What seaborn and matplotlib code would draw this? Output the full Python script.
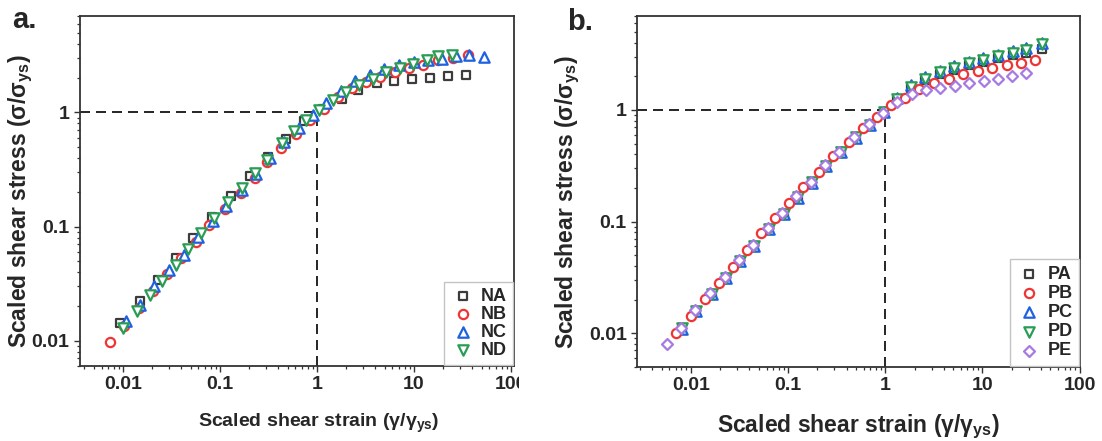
import matplotlib
matplotlib.use("Agg")
import matplotlib.pyplot as plt
import seaborn as sns
import pandas as pd
from matplotlib.ticker import FixedLocator, FixedFormatter, LogLocator, NullFormatter
from matplotlib.transforms import Bbox, TransformedBbox

# ---------------- data: panel a ----------------
NA_x = [0.0094, 0.0148, 0.0228, 0.0354, 0.0532, 0.083, 0.129, 0.202, 0.313, 0.48,
        0.734, 1.14, 1.79, 2.66, 4.12, 6.25, 9.6, 14.6, 22.5, 34.8]
NA_y = [0.0143, 0.0221, 0.0342, 0.0526, 0.0793, 0.121, 0.184, 0.279, 0.406, 0.589,
        0.834, 1.08, 1.31, 1.56, 1.79, 1.87, 1.95, 2.0, 2.07, 2.14]

NB_x = [0.0073, 0.0103, 0.0145, 0.0205, 0.0285, 0.040, 0.056, 0.077, 0.112, 0.163,
        0.227, 0.308, 0.423, 0.605, 0.85, 1.18, 1.65, 2.3, 3.2, 4.5, 6.3, 8.8,
        12.4, 17.8, 25.3, 36.0]
NB_y = [0.0097, 0.0135, 0.0195, 0.027, 0.0385, 0.053, 0.073, 0.104, 0.142, 0.197,
        0.266, 0.365, 0.487, 0.646, 0.85, 1.08, 1.36, 1.62, 1.85, 2.05, 2.25, 2.45,
        2.62, 2.85, 3.0, 3.2]

NC_x = [0.0107, 0.0149, 0.0211, 0.030, 0.0429, 0.0598, 0.0856, 0.116, 0.169, 0.236,
        0.324, 0.452, 0.652, 0.916, 1.25, 1.75, 2.45, 3.5, 4.9, 7.0, 10.0, 14.0,
        19.5, 27.1, 36.9, 52.7]
NC_y = [0.0148, 0.0207, 0.0299, 0.0413, 0.0567, 0.081, 0.111, 0.150, 0.210, 0.290,
        0.398, 0.546, 0.729, 0.955, 1.22, 1.55, 1.87, 2.14, 2.40, 2.60, 2.74, 2.85,
        2.95, 3.09, 3.2, 3.05]

ND_x = [0.0100, 0.0140, 0.0191, 0.0254, 0.0348, 0.0467, 0.0634, 0.087, 0.121, 0.167,
        0.232, 0.308, 0.44, 0.58, 0.77, 1.04, 1.45, 2.0, 2.73, 3.8, 5.2, 7.2, 9.8,
        13.5, 17.8, 24.4]
ND_y = [0.0129, 0.0181, 0.0253, 0.0331, 0.0463, 0.0636, 0.0877, 0.119, 0.164, 0.217,
        0.294, 0.385, 0.539, 0.682, 0.851, 1.05, 1.29, 1.50, 1.75, 1.96, 2.24, 2.45,
        2.67, 2.85, 3.09, 3.2]

# ---------------- data: panel b ----------------
PB_x = [0.0070, 0.0100, 0.0140, 0.0195, 0.0272, 0.0379, 0.053, 0.074, 0.103, 0.144,
        0.209, 0.292, 0.419, 0.585, 0.83, 1.15, 1.6, 2.2, 3.14, 4.49, 6.36, 8.93,
        12.6, 17.8, 25.2, 35.1]
PB_y = [0.0100, 0.0143, 0.0201, 0.0284, 0.0395, 0.0557, 0.0787, 0.107, 0.146, 0.206,
        0.280, 0.387, 0.520, 0.685, 0.86, 1.10, 1.29, 1.53, 1.76, 1.91, 2.09, 2.24,
        2.36, 2.53, 2.66, 2.80]

PE_x = [0.0057, 0.0079, 0.0111, 0.0158, 0.0224, 0.0313, 0.0437, 0.0615, 0.0873, 0.122,
        0.173, 0.241, 0.337, 0.482, 0.673, 0.94, 1.33, 1.87, 2.6, 3.7, 5.2, 7.3,
        10.3, 14.4, 20.3, 28.3]
PE_y = [0.0080, 0.0112, 0.0162, 0.0228, 0.0317, 0.0454, 0.0618, 0.0871, 0.119, 0.168,
        0.228, 0.322, 0.424, 0.577, 0.75, 0.946, 1.17, 1.38, 1.51, 1.57, 1.64, 1.73,
        1.81, 1.90, 2.0, 2.16]

P_x = [0.0081, 0.0114, 0.0163, 0.0231, 0.0322, 0.045, 0.0633, 0.090, 0.126, 0.178,
       0.248, 0.347, 0.496, 0.69, 0.96, 1.31, 1.84, 2.58, 3.68, 5.13, 7.2, 10.2,
       14.4, 20.4, 28.1, 41.0]
PA_y = [0.0110, 0.0159, 0.0224, 0.0312, 0.0447, 0.0609, 0.0858, 0.117, 0.165, 0.225,
        0.317, 0.418, 0.568, 0.74, 0.96, 1.24, 1.58, 1.85, 2.10, 2.30, 2.52, 2.70,
        2.90, 3.08, 3.25, 3.50]
PC_y = [0.0109, 0.0158, 0.0222, 0.0310, 0.0444, 0.0605, 0.0853, 0.116, 0.164, 0.223,
        0.315, 0.416, 0.565, 0.735, 0.96, 1.28, 1.66, 1.96, 2.24, 2.47, 2.70, 2.90,
        3.14, 3.38, 3.60, 4.0]
PD_y = [0.0110, 0.0159, 0.0223, 0.0311, 0.0446, 0.0607, 0.0856, 0.117, 0.165, 0.224,
        0.316, 0.417, 0.567, 0.74, 0.96, 1.26, 1.62, 1.91, 2.19, 2.40, 2.62, 2.80,
        3.04, 3.26, 3.45, 3.88]

tick_vals = [0.01, 0.1, 1, 10, 100]
tick_labels = ["0.01", "0.1", "1", "10", "100"]
ytick_vals = [0.01, 0.1, 1]
ytick_labels = ["0.01", "0.1", "1"]

GRAY, RED, BLUE, GREEN, PURPLE = "#3c3c3c", "#ef3434", "#1f62e0", "#2a9d55", "#a779e2"

sns.set_style("ticks")
plt.rcParams["font.family"] = ["Liberation Sans", "DejaVu Sans"]
plt.rcParams["font.weight"] = "bold"
plt.rcParams["mathtext.fontset"] = "custom"
plt.rcParams["mathtext.rm"] = "Liberation Sans:bold"
plt.rcParams["mathtext.bf"] = "Liberation Sans:bold"
plt.rcParams["mathtext.it"] = "Liberation Sans:bold"

fig = plt.figure(figsize=(11.02, 4.41), dpi=100)
axA = fig.add_axes([0.0726, 0.170, 0.394, 0.794])
axB = fig.add_axes([0.5782, 0.1685, 0.4015, 0.796])

def series(ax, x, y, name, marker, color, size, z):
    df = pd.DataFrame({"x": x, "y": y})
    sns.scatterplot(data=df, x="x", y="y", ax=ax, marker=marker, s=size,
                    facecolors="white", edgecolor=color, linewidth=1.6,
                    label=name, zorder=z)

series(axA, NA_x, NA_y, "NA", "s", GRAY, 33, 3)
series(axA, NB_x, NB_y, "NB", "o", RED, 44, 4)
series(axA, NC_x, NC_y, "NC", "^", BLUE, 56, 5)
series(axA, ND_x, ND_y, "ND", "v", GREEN, 56, 6)

series(axB, P_x, PA_y, "PA", "s", GRAY, 33, 3)
series(axB, PB_x, PB_y, "PB", "o", RED, 44, 6)
series(axB, P_x, PC_y, "PC", "^", BLUE, 56, 4)
series(axB, P_x, PD_y, "PD", "v", GREEN, 56, 5)
series(axB, PE_x, PE_y, "PE", "D", PURPLE, 31, 7)

def style(ax, xlim, ylim, ylab_x, xlab_y, xlab_x, lab_fs_x, lab_fs_y):
    ax.set_xscale("log")
    ax.set_yscale("log")
    ax.set_xlim(*xlim)
    ax.set_ylim(*ylim)
    ax.xaxis.set_major_locator(FixedLocator(tick_vals))
    ax.xaxis.set_major_formatter(FixedFormatter(tick_labels))
    ax.yaxis.set_major_locator(FixedLocator(ytick_vals))
    ax.yaxis.set_major_formatter(FixedFormatter(ytick_labels))
    ax.xaxis.set_minor_locator(LogLocator(base=10, subs=range(2, 10), numticks=20))
    ax.yaxis.set_minor_locator(LogLocator(base=10, subs=range(2, 10), numticks=20))
    ax.xaxis.set_minor_formatter(NullFormatter())
    ax.yaxis.set_minor_formatter(NullFormatter())
    ax.tick_params(which="major", direction="out", length=4.5, width=1.0,
                   labelsize=14, color="#333333", pad=3, top=False, right=False)
    ax.tick_params(which="minor", direction="out", length=2.5, width=0.9,
                   color="#333333", top=False, right=False)
    for sp in ax.spines.values():
        sp.set_visible(True)
        sp.set_linewidth(1.3)
        sp.set_color("#333333")
    ax.plot([xlim[0], 1], [1, 1], color="black", lw=1.2,
            linestyle=(0, (6, 3.6)), zorder=2)
    ax.plot([1, 1], [ylim[0], 1], color="black", lw=1.2,
            linestyle=(0, (6, 3.6)), zorder=2)
    ax.set_xlabel("Scaled shear strain (γ/γ$_{\\mathbf{ys}}$)", fontsize=lab_fs_x,
                  fontweight="bold")
    ax.set_ylabel("Scaled shear stress (σ/σ$_{\\mathbf{ys}}$)", fontsize=lab_fs_y,
                  fontweight="bold")
    ax.xaxis.set_label_coords(xlab_x, xlab_y)
    ax.yaxis.set_label_coords(ylab_x, 0.47)

style(axA, (0.0036, 108), (0.006, 7.0), -0.104, -0.13, 0.549, 14, 16.5)
style(axB, (0.0028, 100), (0.005, 7.0), -0.125, -0.13, 0.50, 16.5, 16.5)

for ax, lsp, order in ((axA, 0.05, ["NA", "NB", "NC", "ND"]),
                       (axB, 0.12, ["PA", "PB", "PC", "PD", "PE"])):
    handles, labels = ax.get_legend_handles_labels()
    hmap = dict(zip(labels, handles))
    leg = ax.legend([hmap[k] for k in order], order,
                    loc="lower right", bbox_to_anchor=(1.0, 0.0), borderaxespad=0.05,
                    frameon=True, fancybox=False, edgecolor="#c4c4c4", framealpha=1,
                    fontsize=13, handlelength=1.4, handletextpad=0.3, borderpad=0.35,
                    labelspacing=lsp)
    leg.get_frame().set_linewidth(1.0)
    leg.set_zorder(10)

fig.text(12 / 1102, 1 - 28 / 441, "a.", fontsize=21, fontweight="bold", va="baseline")
fig.text(567 / 1102, 1 - 30 / 441, "b.", fontsize=21, fontweight="bold", va="baseline")

# the "100" of panel a is cut at the panel border in the reference
fig.canvas.draw()
clip = TransformedBbox(Bbox([[0, 0], [519 / 1102, 1]]), fig.transFigure)
for t in axA.get_xticklabels():
    t.set_clip_box(clip)
    t.set_clip_on(True)

fig.savefig("out.png", dpi=100)
